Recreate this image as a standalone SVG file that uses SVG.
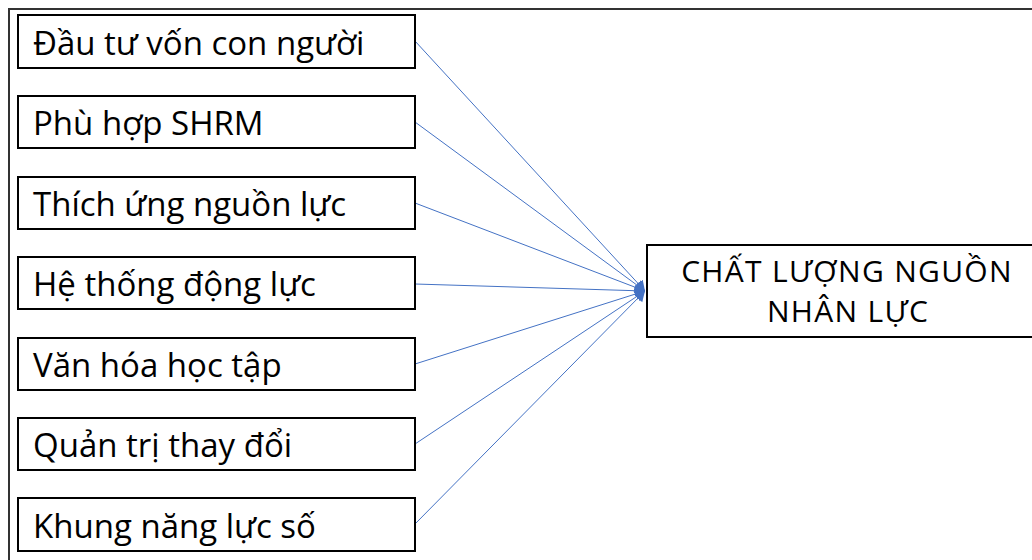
<svg xmlns="http://www.w3.org/2000/svg" width="1032" height="560" viewBox="0 0 1032 560">
<defs>
<style>
.box{fill:#fff;stroke:#000;stroke-width:2}
.t{font-family:"Open Sans","Noto Sans",sans-serif;font-size:33px;fill:#000}
.h{font-size:30px;letter-spacing:1.3px}
.c{stroke:#4472C4;stroke-width:1;fill:none}
</style>
<marker id="ah" viewBox="0 0 10 14" refX="10" refY="7" markerWidth="10" markerHeight="14" markerUnits="userSpaceOnUse" orient="auto">
<path d="M0,1 L10,7 L0,13 z" fill="#4472C4"/>
</marker>
</defs>
<rect width="1032" height="560" fill="#fff"/>
<path d="M9,560 L9,9 L1032,9" fill="none" stroke="#333" stroke-width="2"/>
<g id="connectors">
<line class="c" x1="415" y1="41" x2="645" y2="291" marker-end="url(#ah)"/>
<line class="c" x1="415" y1="122" x2="645" y2="291" marker-end="url(#ah)"/>
<line class="c" x1="415" y1="203" x2="645" y2="291" marker-end="url(#ah)"/>
<line class="c" x1="415" y1="284" x2="645" y2="291" marker-end="url(#ah)"/>
<line class="c" x1="415" y1="364" x2="645" y2="291" marker-end="url(#ah)"/>
<line class="c" x1="415" y1="444" x2="645" y2="291" marker-end="url(#ah)"/>
<line class="c" x1="415" y1="524" x2="645" y2="291" marker-end="url(#ah)"/>
</g>
<g id="n1"><rect class="box" x="18" y="15" width="397" height="53"/><text class="t" x="33" y="55">Đầu tư vốn con người</text></g>
<g id="n2"><rect class="box" x="18" y="96" width="397" height="52"/><text class="t" x="33" y="135">Phù hợp SHRM</text></g>
<g id="n3"><rect class="box" x="18" y="177" width="397" height="52"/><text class="t" x="33" y="216">Thích ứng nguồn lực</text></g>
<g id="n4"><rect class="box" x="18" y="257" width="397" height="52"/><text class="t" x="33" y="296">Hệ thống động lực</text></g>
<g id="n5"><rect class="box" x="18" y="338" width="397" height="52"/><text class="t" x="33" y="377">Văn hóa học tập</text></g>
<g id="n6"><rect class="box" x="18" y="418" width="397" height="52"/><text class="t" x="33" y="457">Quản trị thay đổi</text></g>
<g id="n7"><rect class="box" x="18" y="498" width="397" height="53"/><text class="t" x="33" y="538">Khung năng lực số</text></g>
<g id="target"><rect class="box" x="647" y="245" width="400" height="92"/>
<text class="t h" x="847" y="282" text-anchor="middle">CHẤT LƯỢNG NGUỒN</text>
<text class="t h" x="848" y="322" text-anchor="middle">NHÂN LỰC</text></g>
</svg>
